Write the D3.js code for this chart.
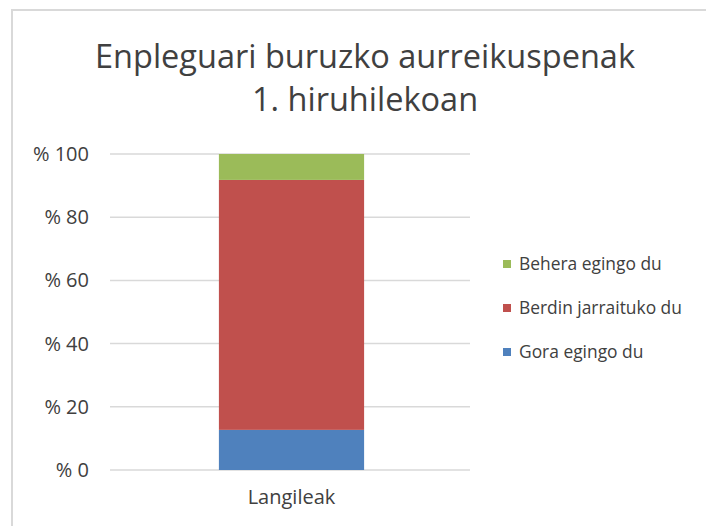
<!DOCTYPE html>
<html>
<head>
<meta charset="utf-8">
<script src="https://cdn.jsdelivr.net/npm/d3@7"></script>
<style>
  body { margin: 0; background: #fff; }
  text { font-family: "Open Sans", "Noto Sans", sans-serif; fill: #404040; }
</style>
</head>
<body>
<div id="chart"></div>
<script>
// chart data
const categories = ["Langileak"];
const seriesNames = ["Gora egingo du", "Berdin jarraituko du", "Behera egingo du"];
const seriesColors = ["#4f81bd", "#c0504d", "#9bbb59"];
const gora = [12.7];
const berdin = [79.1];
const behera = [8.2];
const yTicks = [0, 20, 40, 60, 80, 100];
const titleLines = ["Enpleguari buruzko aurreikuspenak", "1. hiruhilekoan"];

const W = 706, H = 526;
const svg = d3.select("#chart").append("svg")
  .attr("width", W).attr("height", H);

// outer frame (only top and left visible)
svg.append("path")
  .attr("d", "M12,526 L12,10 L706,10")
  .attr("fill", "none")
  .attr("stroke", "#d9d9d9")
  .attr("stroke-width", 2);

// title
svg.append("g").selectAll("text")
  .data(titleLines)
  .enter().append("text")
  .attr("x", 365)
  .attr("y", (d, i) => 68 + i * 43)
  .attr("text-anchor", "middle")
  .style("font-size", "32.5px")
  .text(d => d);

const plot = {left: 110, right: 473, top: 154, bottom: 470};

const x = d3.scaleBand()
  .domain(categories)
  .range([plot.left, plot.right])
  .paddingInner(0.6).paddingOuter(0.3);

const y = d3.scaleLinear()
  .domain([0, 100])
  .range([plot.bottom, plot.top]);

// gridlines
svg.append("g").selectAll("line")
  .data(yTicks)
  .enter().append("line")
  .attr("x1", plot.left).attr("x2", plot.right - 3)
  .attr("y1", d => y(d)).attr("y2", d => y(d))
  .attr("stroke", "#d9d9d9")
  .attr("stroke-width", 1.5);

// y tick labels
svg.append("g").selectAll("text")
  .data(yTicks)
  .enter().append("text")
  .attr("x", 89)
  .attr("y", d => y(d))
  .attr("dy", "0.35em")
  .attr("text-anchor", "end")
  .style("font-size", "20px")
  .text(d => "% " + d);

// stacked bars
const rows = categories.map((c, i) => ({cat: c, s0: gora[i], s1: berdin[i], s2: behera[i]}));
const stack = d3.stack().keys(["s0", "s1", "s2"])(rows);

svg.append("g").selectAll("g")
  .data(stack)
  .enter().append("g")
  .attr("fill", (d, i) => seriesColors[i])
  .selectAll("rect")
  .data(d => d)
  .enter().append("rect")
  .attr("x", d => x(d.data.cat))
  .attr("width", x.bandwidth())
  .attr("y", d => y(d[1]))
  .attr("height", d => y(d[0]) - y(d[1]));

// category label
svg.append("g").selectAll("text")
  .data(categories)
  .enter().append("text")
  .attr("x", d => x(d) + x.bandwidth() / 2)
  .attr("y", 504)
  .attr("text-anchor", "middle")
  .style("font-size", "20px")
  .text(d => d);

// legend (top to bottom: reversed series order)
const legendItems = seriesNames.map((n, i) => ({name: n, color: seriesColors[i]})).reverse();
const legend = svg.append("g").selectAll("g")
  .data(legendItems)
  .enter().append("g")
  .attr("transform", (d, i) => "translate(503," + (264 + i * 44) + ")");

legend.append("rect")
  .attr("x", 0).attr("y", -4)
  .attr("width", 8).attr("height", 8)
  .attr("fill", d => d.color);

legend.append("text")
  .attr("x", 16)
  .attr("dy", "0.35em")
  .style("font-size", "17.4px")
  .text(d => d.name);
</script>
</body>
</html>
